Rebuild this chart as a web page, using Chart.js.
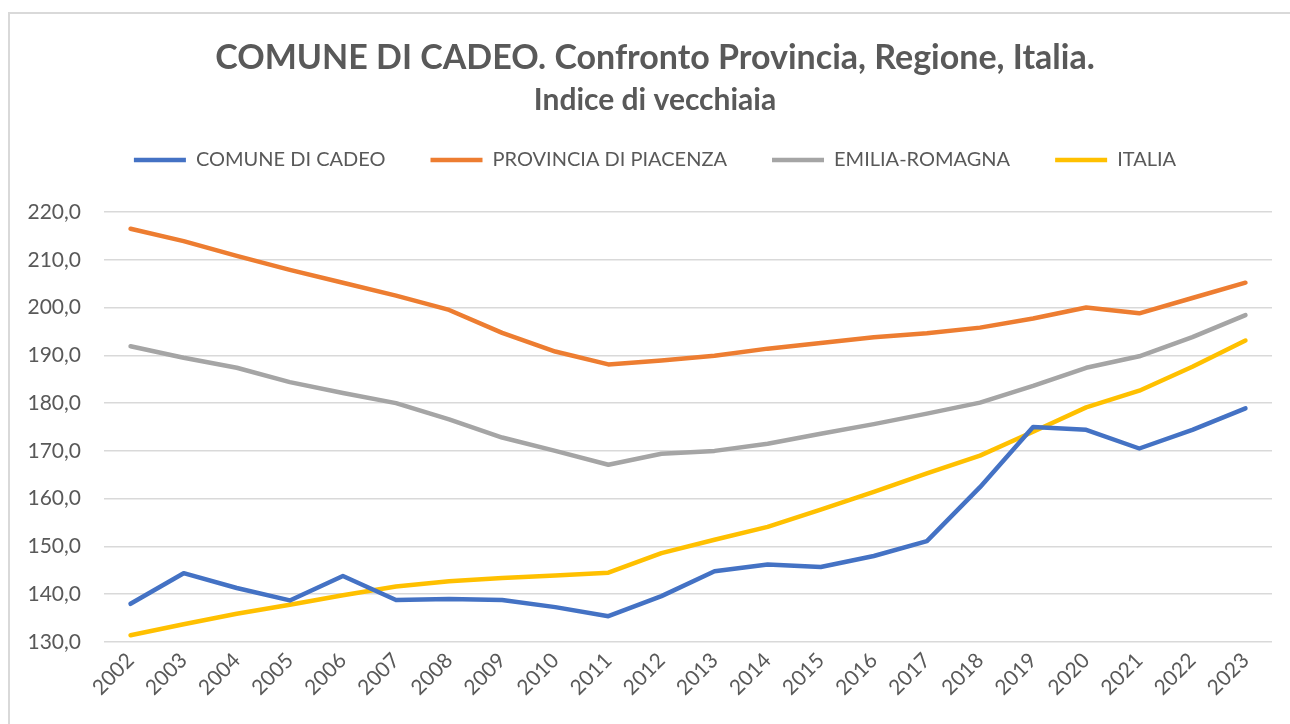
<!DOCTYPE html>
<html>
<head>
<meta charset="utf-8">
<script src="https://cdn.jsdelivr.net/npm/chart.js@4.4.0/dist/chart.umd.min.js"></script>
<style>
  html, body { margin: 0; padding: 0; background: #fff; }
  #frame { position: absolute; left: 8px; top: 12px; width: 1300px; height: 800px; border: 2px solid #d9d9d9; box-sizing: border-box; }
  #wrap { position: absolute; left: 0; top: 0; width: 1290px; height: 724px; }
</style>
</head>
<body>
<div id="frame"></div>
<div id="wrap"><canvas id="chart" width="1290" height="724"></canvas></div>
<script>
// Indice di vecchiaia 2002-2023
const years = ['2002','2003','2004','2005','2006','2007','2008','2009','2010','2011','2012',
  '2013','2014','2015','2016','2017','2018','2019','2020','2021','2022','2023'];

const cadeo = [138.0, 144.4, 141.3, 138.7, 143.8, 138.8, 139.0, 138.8, 137.3, 135.4, 139.6,
  144.8, 146.2, 145.7, 148.0, 151.1, 162.4, 175.0, 174.4, 170.5, 174.4, 178.9];
const piacenza = [216.5, 213.9, 210.8, 207.9, 205.2, 202.5, 199.5, 194.7, 190.8, 188.1, 188.9,
  189.9, 191.4, 192.6, 193.8, 194.6, 195.8, 197.7, 200.0, 198.8, 202.0, 205.2];
const emilia = [191.9, 189.5, 187.4, 184.4, 182.1, 180.0, 176.6, 172.8, 170.0, 167.1, 169.4,
  170.0, 171.5, 173.6, 175.6, 177.8, 180.1, 183.6, 187.4, 189.8, 193.8, 198.4];
const italia = [131.4, 133.7, 135.9, 137.8, 139.8, 141.6, 142.7, 143.4, 143.9, 144.5, 148.6,
  151.4, 154.1, 157.7, 161.4, 165.3, 169.0, 174.0, 179.1, 182.6, 187.6, 193.1];

const seriesNames = ['COMUNE DI CADEO', 'PROVINCIA DI PIACENZA', 'EMILIA-ROMAGNA', 'ITALIA'];
const seriesColors = ['#4472C4', '#ED7D31', '#A5A5A5', '#FFC000'];

const yMin = 130, yMax = 220, yStep = 10;

const textColor = '#595959';
const fontFamily = 'Lato, "Open Sans", sans-serif';

// tweak the space between legend and plot
const legendGap = {
  id: 'legendGap',
  beforeInit(chart) {
    const fit = chart.legend.fit;
    chart.legend.fit = function() {
      fit.bind(chart.legend)();
      this.height += 32;
    };
  },
  // title, subtitle and legend are centred on the whole frame, not the plot
  afterLayout(chart) {
    chart.boxes.forEach(b => {
      if (b.position === 'top') { b.left += 19; b.right += 19; }
    });
  }
};

const datasets = [cadeo, piacenza, emilia, italia].map((vals, i) => ({
  label: seriesNames[i],
  data: vals,
  borderColor: seriesColors[i],
  backgroundColor: seriesColors[i],
  borderWidth: 4.5,
  borderCapStyle: 'round',
  borderJoinStyle: 'round',
  pointRadius: 0,
  pointHoverRadius: 0,
  tension: 0,
  fill: false
}));

new Chart(document.getElementById('chart'), {
  type: 'line',
  data: { labels: years, datasets },
  plugins: [legendGap],
  options: {
    responsive: false,
    animation: false,
    layout: { padding: { left: 0, right: 18, top: 0, bottom: 0 } },
    plugins: {
      title: {
        display: true,
        text: 'COMUNE DI CADEO. Confronto Provincia, Regione, Italia.',
        color: textColor,
        font: { family: fontFamily, size: 34, weight: 'bold', lineHeight: 1 },
        padding: { top: 41, bottom: 10 }
      },
      subtitle: {
        display: true,
        text: 'Indice di vecchiaia',
        color: textColor,
        font: { family: fontFamily, size: 30, weight: 'bold', lineHeight: 1 },
        padding: { top: 0, bottom: -10 }
      },
      legend: {
        position: 'top',
        labels: {
          color: textColor,
          font: { family: fontFamily, size: 20 },
          usePointStyle: true,
          pointStyle: 'line',
          pointStyleWidth: 52,
          boxHeight: 20,
          padding: 45
        }
      },
      tooltip: { enabled: false }
    },
    scales: {
      x: {
        offset: true,
        grid: { display: false, drawTicks: false },
        border: { display: false },
        afterFit(scale) { scale.height = 82; },
        ticks: {
          color: textColor,
          font: { family: fontFamily, size: 21 },
          minRotation: 45,
          maxRotation: 45,
          autoSkip: false,
          padding: 6
        }
      },
      y: {
        min: yMin,
        max: yMax,
        grid: { color: '#d9d9d9', lineWidth: 1.5, drawTicks: false },
        border: { display: false },
        afterFit(scale) { scale.width = 104; },
        ticks: {
          stepSize: yStep,
          color: textColor,
          font: { family: fontFamily, size: 21 },
          padding: 23,
          callback: v => v.toFixed(1).replace('.', ',')
        }
      }
    }
  }
});
</script>
</body>
</html>
